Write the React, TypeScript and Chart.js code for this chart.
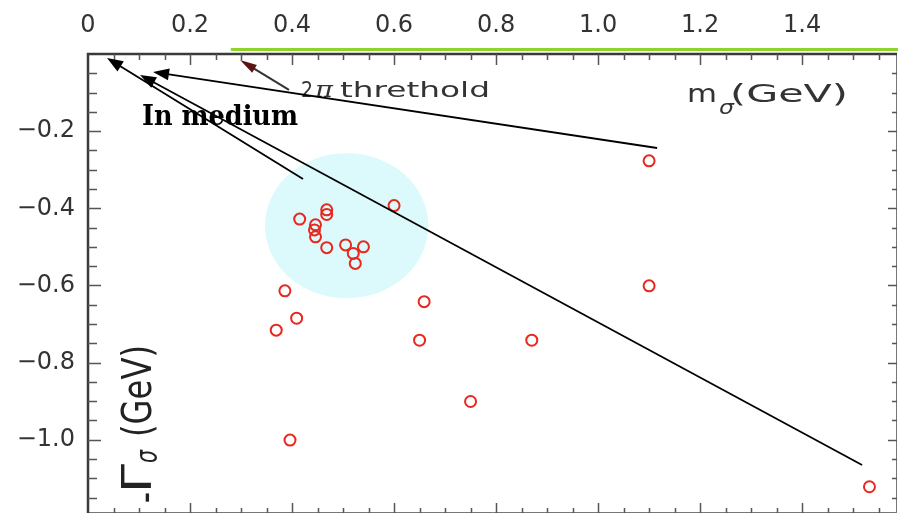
import React, { useEffect, useRef } from 'react';
import { Chart, registerables } from 'chart.js';

Chart.register(...registerables);

// Sigma pole positions: mass m_sigma (GeV) and minus width -Gamma_sigma (GeV)
const sigmaMass = [1.1, 0.6, 0.415, 0.468, 0.468, 0.446, 0.444, 0.446, 0.468, 0.505, 0.54, 0.52, 0.524, 0.386, 0.659, 0.409, 0.369, 0.65, 0.87, 1.1, 0.75, 0.396, 1.532];
const negWidth = [-0.277, -0.393, -0.428, -0.404, -0.416, -0.443, -0.456, -0.474, -0.502, -0.495, -0.5, -0.517, -0.543, -0.614, -0.642, -0.685, -0.716, -0.742, -0.742, -0.601, -0.901, -1.001, -1.122];

const xTicks = [0, 0.2, 0.4, 0.6, 0.8, 1.0, 1.2, 1.4];
const yTicks = [-0.2, -0.4, -0.6, -0.8, -1.0];

const X_MAX = 1.586;
const Y_MIN = -1.19;
const TWO_PION = 0.28; // 2 m_pi threshold

// "In medium" arrows (data coordinates): tails and tips
const arrowTails = [
  [0.4216, -0.324],
  [1.5176, -1.0656],
  [1.1157, -0.2437],
];
const arrowTips = [
  [0.0373, -0.0104],
  [0.102, -0.0544],
  [0.1275, -0.0467],
];
// threshold pointer
const thrTail = [0.394, -0.093];
const thrTip = [0.298, -0.0156];

// shaded cluster region (centre and radii, data units)
const clusterCenter = [0.507, -0.445];
const clusterRadii = [0.16, 0.188];

function fitText(ctx: CanvasRenderingContext2D, text: string, x: number, y: number, width: number, font: string) {
  ctx.save();
  ctx.font = font;
  ctx.textAlign = 'left';
  ctx.textBaseline = 'alphabetic';
  const w = ctx.measureText(text).width;
  ctx.translate(x, y);
  ctx.scale(width / w, 1);
  ctx.fillText(text, 0, 0);
  ctx.restore();
}

function arrow(
  ctx: CanvasRenderingContext2D,
  x1: number, y1: number, x2: number, y2: number,
  headLen: number, headHalf: number, lineColor: string, headColor: string, lw: number
) {
  const ang = Math.atan2(y2 - y1, x2 - x1);
  ctx.save();
  ctx.strokeStyle = lineColor;
  ctx.lineWidth = lw;
  ctx.beginPath();
  ctx.moveTo(x1, y1);
  ctx.lineTo(x2 - Math.cos(ang) * headLen * 0.8, y2 - Math.sin(ang) * headLen * 0.8);
  ctx.stroke();
  ctx.translate(x2, y2);
  ctx.rotate(ang);
  ctx.beginPath();
  ctx.moveTo(0, 0);
  ctx.lineTo(-headLen, -headHalf);
  ctx.lineTo(-headLen, headHalf);
  ctx.closePath();
  ctx.fillStyle = headColor;
  ctx.fill();
  ctx.restore();
}

const decorPlugin = {
  id: 'decor',
  beforeDraw(chart: any) {
    const { ctx, width, height } = chart;
    ctx.save();
    ctx.fillStyle = '#ffffff';
    ctx.fillRect(0, 0, width, height);
    ctx.restore();
  },
  beforeDatasetsDraw(chart: any) {
    const { ctx } = chart;
    const xs = chart.scales.x;
    const ys = chart.scales.y;
    const cx = xs.getPixelForValue(clusterCenter[0]);
    const cy = ys.getPixelForValue(clusterCenter[1]);
    const rx = Math.abs(xs.getPixelForValue(clusterCenter[0] + clusterRadii[0]) - cx);
    const ry = Math.abs(ys.getPixelForValue(clusterCenter[1] + clusterRadii[1]) - cy);
    ctx.save();
    ctx.fillStyle = '#dcf9fb';
    ctx.beginPath();
    ctx.ellipse(cx, cy, rx, ry, 0, 0, Math.PI * 2);
    ctx.fill();
    ctx.restore();
  },
  afterDatasetsDraw(chart: any) {
    const { ctx, chartArea: a } = chart;
    const xs = chart.scales.x;
    const ys = chart.scales.y;
    const px = (v: number) => xs.getPixelForValue(v);
    const py = (v: number) => ys.getPixelForValue(v);

    ctx.save();
    // frame
    ctx.strokeStyle = '#777';
    ctx.lineWidth = 1;
    ctx.beginPath();
    ctx.moveTo(a.left, a.bottom - 0.5);
    ctx.lineTo(a.right, a.bottom - 0.5);
    ctx.moveTo(a.right - 0.5, a.top);
    ctx.lineTo(a.right - 0.5, a.bottom);
    ctx.stroke();
    ctx.strokeStyle = '#3a3a3a';
    ctx.lineWidth = 2.5;
    ctx.beginPath();
    ctx.moveTo(a.left, a.bottom);
    ctx.lineTo(a.left, a.top);
    ctx.lineTo(a.right, a.top);
    ctx.stroke();

    // inward ticks, minor every 0.05, major every 0.2
    ctx.strokeStyle = '#555';
    ctx.lineWidth = 1.5;
    ctx.beginPath();
    const nx = Math.floor(X_MAX / 0.05 + 1e-6);
    for (let i = 1; i <= nx; i++) {
      const x = Math.round(px(i * 0.05)) + 0.5;
      const major = i % 4 === 0;
      ctx.moveTo(x, a.top);
      ctx.lineTo(x, a.top + (major ? 11 : 6));
      ctx.moveTo(x, a.bottom);
      ctx.lineTo(x, a.bottom - (major ? 10 : 5));
    }
    const ny = Math.floor(-Y_MIN / 0.05 + 1e-6);
    for (let i = 1; i <= ny; i++) {
      const y = Math.round(py(-i * 0.05)) + 0.5;
      const major = i % 4 === 0;
      ctx.moveTo(a.left, y);
      ctx.lineTo(a.left + (major ? 13 : 9), y);
      ctx.moveTo(a.right, y);
      ctx.lineTo(a.right - (major ? 9 : 5), y);
    }
    ctx.stroke();

    // 2 m_pi threshold bar above the axis
    ctx.strokeStyle = '#8fd42b';
    ctx.lineWidth = 3;
    ctx.beginPath();
    ctx.moveTo(px(TWO_PION), a.top - 4.5);
    ctx.lineTo(chart.width, a.top - 4.5);
    ctx.stroke();

    // axis titles and notes
    ctx.fillStyle = '#333';
    fitText(ctx, 'm', 687, 102, 30, '25px "DejaVu Sans"');
    fitText(ctx, 'σ', 719, 114, 15, 'italic 19px "DejaVu Sans"');
    fitText(ctx, '(GeV)', 730, 102, 118, '25px "DejaVu Sans"');

    fitText(ctx, '2', 301, 97, 12, '22px "DejaVu Sans"');
    fitText(ctx, 'π', 315, 97, 18, 'italic 22px "DejaVu Serif"');
    fitText(ctx, 'threthold', 340, 97, 150, '21px "DejaVu Sans"');

    ctx.save();
    ctx.fillStyle = '#222';
    ctx.translate(151, 503);
    ctx.rotate(-Math.PI / 2);
    ctx.scale(1, 1.3);
    fitText(ctx, '−', 0, 7, 11, '31px "DejaVu Sans"');
    fitText(ctx, 'Γ', 10, 0, 29, '31px "DejaVu Sans"');
    fitText(ctx, 'σ', 40, 4.5, 13, 'italic 23px "DejaVu Sans"');
    fitText(ctx, '(GeV)', 66, 0, 92, '31px "DejaVu Sans"');
    ctx.restore();

    ctx.fillStyle = '#000';
    fitText(ctx, 'In medium', 142, 125, 156, 'bold 27px "DejaVu Serif"');

    // arrows
    arrow(ctx, px(thrTail[0]), py(thrTail[1]), px(thrTip[0]), py(thrTip[1]), 17, 4.5, '#333', '#5a1414', 2);
    for (let i = 0; i < arrowTails.length; i++) {
      arrow(
        ctx,
        px(arrowTails[i][0]), py(arrowTails[i][1]),
        px(arrowTips[i][0]), py(arrowTips[i][1]),
        16, 6, '#000', '#000', 1.8
      );
    }
    ctx.restore();
  },
};

export default function App() {
  const ref = useRef<HTMLCanvasElement>(null);

  useEffect(() => {
    const canvas = ref.current;
    if (!canvas) return;
    const chart = new Chart(canvas, {
      type: 'scatter',
      data: {
        datasets: [
          {
            label: 'sigma pole',
            data: sigmaMass.map((m, i) => ({ x: m, y: negWidth[i] })),
            pointStyle: 'circle',
            pointRadius: 5.5,
            pointBorderWidth: 2,
            pointBorderColor: '#e8271f',
            pointBackgroundColor: 'rgba(0,0,0,0)',
          },
        ],
      },
      options: {
        responsive: false,
        animation: false,
        devicePixelRatio: 1,
        layout: { autoPadding: false, padding: { left: 0, top: 0, right: 1, bottom: 2 } },
        plugins: {
          legend: { display: false },
          tooltip: { enabled: false },
        },
        scales: {
          x: {
            type: 'linear',
            position: 'top',
            min: 0,
            max: X_MAX,
            afterFit: (s: any) => {
              s.height = 54;
              s.paddingLeft = 0;
              s.paddingRight = 0;
              s.paddingTop = 0;
              s.paddingBottom = 0;
            },
            afterBuildTicks: (s: any) => {
              s.ticks = xTicks.map((v) => ({ value: v }));
            },
            grid: { display: false, drawTicks: false },
            border: { display: false },
            ticks: {
              autoSkip: false,
              maxRotation: 0,
              padding: 14,
              color: '#333',
              font: { family: 'DejaVu Sans', size: 24 },
              callback: (v: any) => (Number(v) === 0 ? '0' : Number(v).toFixed(1)),
            },
          },
          y: {
            type: 'linear',
            position: 'left',
            min: Y_MIN,
            max: 0,
            afterFit: (s: any) => {
              s.width = 88;
              s.paddingLeft = 0;
              s.paddingRight = 0;
              s.paddingTop = 0;
              s.paddingBottom = 0;
            },
            afterBuildTicks: (s: any) => {
              s.ticks = yTicks.map((v) => ({ value: v }));
            },
            grid: { display: false, drawTicks: false },
            border: { display: false },
            ticks: {
              autoSkip: false,
              padding: 13,
              color: '#333',
              font: { family: 'DejaVu Sans', size: 24 },
              callback: (v: any) => '−' + Math.abs(Number(v)).toFixed(1),
            },
          },
        },
      },
      plugins: [decorPlugin],
    });
    return () => chart.destroy();
  }, []);

  return (
    <div style={{ position: 'fixed', left: 0, top: 0, width: 898, height: 515, background: '#fff' }}>
      <canvas ref={ref} width={898} height={515} style={{ display: 'block' }} />
    </div>
  );
}
